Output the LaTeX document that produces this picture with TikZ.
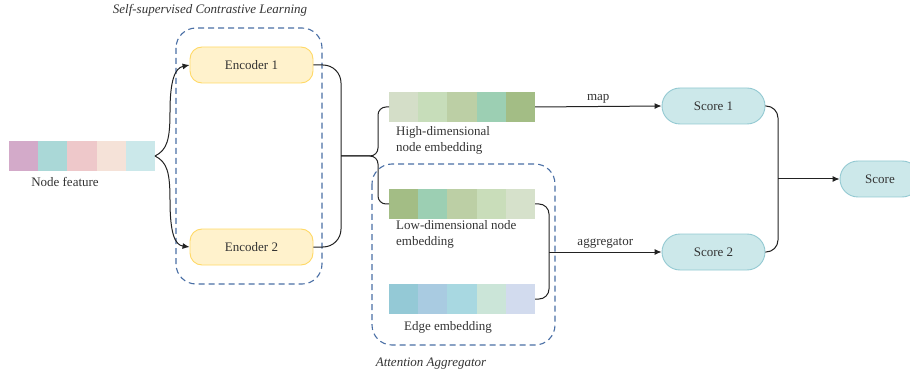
\documentclass[tikz,border=0pt]{standalone}
\usepackage{fontspec}
\setmainfont{Liberation Serif}
\usetikzlibrary{arrows.meta,shapes.misc}
\definecolor{dashblue}{HTML}{4A6FA5}
\definecolor{encfill}{HTML}{FFF2CC}
\definecolor{encdraw}{HTML}{FFD966}
\definecolor{scfill}{HTML}{CCE8EA}
\definecolor{scdraw}{HTML}{93C9D2}
\definecolor{lnk}{HTML}{222222}
\begin{document}
\begin{tikzpicture}[x=1pt,y=-1pt,
  every node/.style={font=\fontsize{13}{16}\selectfont, text=black!80},
  encbox/.style={draw=encdraw, fill=encfill, line width=0.9pt, rounded corners=12pt, minimum width=123pt, minimum height=36pt, inner sep=0pt},
  scbox/.style={draw=scdraw, fill=scfill, line width=0.9pt, rounded rectangle, minimum width=#1, minimum height=36pt, inner sep=0pt},
  cell/.style={minimum width=29.2pt, minimum height=30pt, inner sep=0pt, outer sep=0pt, draw=none},
  group/.style={draw=dashblue, dash pattern=on 6pt off 4pt, line width=1.1pt, rounded corners=20pt},
  link/.style={draw=lnk, line width=1pt},
  arr/.style={link, -{Latex[length=7pt,width=6pt]}},
  lbl/.style={inner sep=0pt, align=left},
  ttl/.style={inner sep=0pt, font=\fontsize{13}{16}\selectfont\itshape}
]
\useasboundingbox (0,0) rectangle (910,374);

% dashed groups
\draw[group] (176,28) rectangle (322,284);
\draw[group] (372,164) rectangle (555,345);
\node[ttl] (t1) at (210,10) {Self-supervised Contrastive Learning};
\node[ttl] (t2) at (431,364) {Attention Aggregator};

% bars
\foreach \c [count=\i] in {D3AAC9,AAD8D7,EEC8CA,F5E2D8,CBE8EA}{
  \definecolor{tmp}{HTML}{\c}
  \node[cell, fill=tmp] (nf\i) at ({9+14.6+29.2*(\i-1)},156) {};
}
\foreach \c [count=\i] in {D4DEC8,C7DDBA,BCCFA5,9CCFB3,A3BD85}{
  \definecolor{tmp}{HTML}{\c}
  \node[cell, fill=tmp] (hb\i) at ({389+14.6+29.2*(\i-1)},107) {};
}
\foreach \c [count=\i] in {A3BD85,9CCFB3,BCCFA5,C9DDBA,D6E1CB}{
  \definecolor{tmp}{HTML}{\c}
  \node[cell, fill=tmp] (lb\i) at ({389+14.6+29.2*(\i-1)},204) {};
}
\foreach \c [count=\i] in {94C9D6,A9CBE1,A8D8E1,CBE5D8,D2DBEE}{
  \definecolor{tmp}{HTML}{\c}
  \node[cell, fill=tmp] (eb\i) at ({389+14.6+29.2*(\i-1)},299) {};
}

% labels
\node[lbl] (nfl) at (65,182) {Node feature};
\node[lbl, anchor=north west] (hbl) at (396,126) {High-dimensional\\node embedding};
\node[lbl, anchor=north west] (lbl) at (396,220) {Low-dimensional node\\embedding};
\node[lbl] (ebl) at (448,327) {Edge embedding};

% encoders and scores
\node[encbox] (e1) at (251.5,65) {Encoder 1};
\node[encbox] (e2) at (251.5,247) {Encoder 2};
\node[scbox=103pt] (s1) at (713.5,106) {Score 1};
\node[scbox=103pt] (s2) at (713.5,252) {Score 2};
\node[scbox=80pt] (s) at (880,179) {Score};

% node feature -> encoders
\draw[arr] (nf5.east) .. controls (167,150) and (170,140) .. (170,112)
  .. controls (170,80) and (175,68) .. (e1.west);
\draw[arr] (nf5.east) .. controls (167,162) and (170,172) .. (170,200)
  .. controls (170,234) and (175,245) .. (e2.west);

% encoders -> embeddings
\coordinate (j1) at (341,156);
\coordinate (j2) at (378,130);
\coordinate (j3) at (378,182);
\draw[link, rounded corners=18pt] (e1.east) -| (j1) |- (e2.east);
\draw[link, rounded corners=8pt] (j1) -| (j2) |- (hb1.west);
\draw[link, rounded corners=8pt] (j1) -| (j3) |- (lb1.west);

% high -> score1
\draw[arr] (hb5.east) -- node[above, inner sep=3pt] {map} (s1.west);

% low + edge -> score2
\coordinate (k1) at (549,252);
\draw[link, rounded corners=10pt] (lb5.east) -| (k1) |- (eb5.east);
\draw[arr] (k1) -- node[above, inner sep=3pt] {aggregator} (s2.west);

% scores -> score
\coordinate (m1) at (778,179);
\draw[link, rounded corners=12pt] (s1.east) -| (m1) |- (s2.east);
\draw[arr] (m1) -- (s.west);
\end{tikzpicture}
\end{document}
